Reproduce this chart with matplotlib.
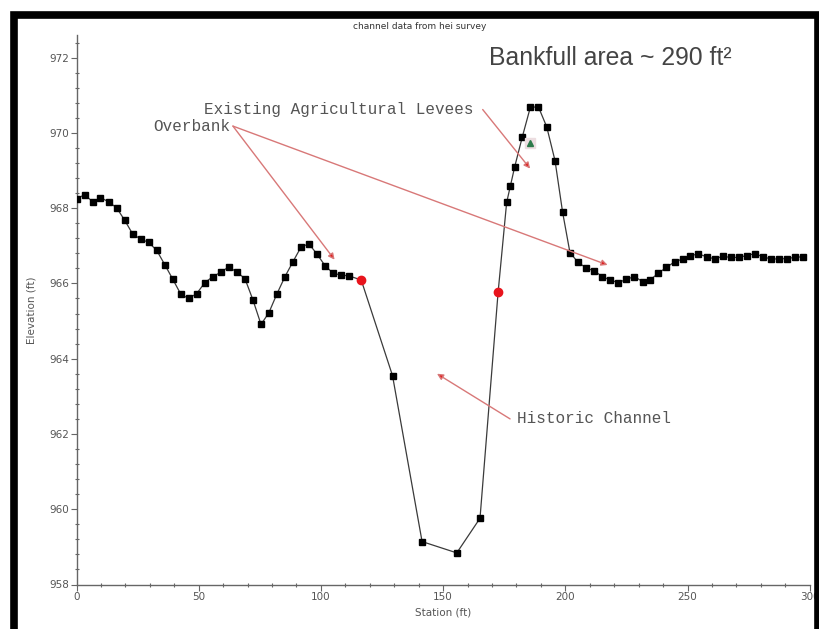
import matplotlib
matplotlib.use('Agg')
import matplotlib.pyplot as plt
import numpy as np
from matplotlib.patches import Rectangle

# surveyed cross-section points (station ft, elevation ft)
station = [0.0, 3.3, 6.6, 9.8, 13.1, 16.4, 19.7, 23.0, 26.2, 29.5, 32.8, 36.1,
           39.4, 42.7, 45.9, 49.2, 52.5, 55.8, 59.1, 62.3, 65.6, 68.9, 72.2,
           75.5, 78.7, 82.0, 85.3, 88.6, 91.9, 95.1, 98.4, 101.7, 105.0, 108.3,
           111.5,
           129.3, 141.4, 155.6, 165.1,
           176.0, 177.5, 179.3, 182.4, 185.7, 189.0, 192.4, 195.8, 198.9,
           201.9, 205.2, 208.6, 211.9, 215.2, 218.4, 221.7, 225.0, 228.3,
           231.6, 234.8, 238.1, 241.4, 244.7, 248.0, 251.2, 254.5, 257.8,
           261.1, 264.4, 267.6, 270.9, 274.2, 277.5, 280.8, 284.0, 287.3,
           290.6, 293.9, 297.2]
elevation = [968.24, 968.36, 968.17, 968.28, 968.17, 968.01, 967.68, 967.31,
             967.18, 967.09, 966.88, 966.50, 966.11, 965.71, 965.60, 965.73,
             966.02, 966.18, 966.30, 966.44, 966.30, 966.13, 965.56, 964.91,
             965.22, 965.72, 966.18, 966.58, 966.97, 967.05, 966.78, 966.47,
             966.27, 966.22, 966.20,
             963.55, 959.14, 958.84, 959.76,
             968.15, 968.58, 969.10, 969.89, 970.68, 970.69, 970.16, 969.26,
             967.89,
             966.82, 966.56, 966.41, 966.33, 966.18, 966.09, 966.02, 966.11,
             966.18, 966.05, 966.10, 966.27, 966.43, 966.57, 966.65, 966.74,
             966.78, 966.71, 966.65, 966.72, 966.69, 966.69, 966.74, 966.79,
             966.71, 966.65, 966.65, 966.66, 966.69, 966.71]

# bankfull points (red)
bank_station = [116.5, 172.5]
bank_elevation = [966.09, 965.76]

# levee marker (green triangle)
levee_station = [185.7]
levee_elevation = [969.72]

all_sta = np.array(station + bank_station)
all_elev = np.array(elevation + bank_elevation)
order = np.argsort(all_sta)

fig = plt.figure(figsize=(8.19, 6.29), dpi=100)
ax = fig.add_axes([76.5 / 819, 44.5 / 629, (809.7 - 76.5) / 819, (584.5 - 35) / 629])

ax.plot(all_sta[order], all_elev[order], color='#3a3a3a', lw=0.9, zorder=2)
ax.plot(station, elevation, 's', color='black', ms=3.7, zorder=3)
ax.plot(bank_station, bank_elevation, 'o', color='#e8141c', ms=6, zorder=4)
ax.plot(levee_station, levee_elevation, 's', color='#ecdde0', ms=6.5, zorder=4)
ax.plot(levee_station, levee_elevation, '^', color='#2d7a4a', ms=4.5, zorder=5)

ax.set_xlim(0, 300)
ax.set_ylim(958, 972.6)
ax.set_xticks(np.arange(0, 301, 50))
ax.set_xticks(np.arange(0, 301, 10), minor=True)
ax.set_yticks(np.arange(958, 973, 2))
ax.set_yticks(np.arange(958, 972.6, 0.4), minor=True)

for s in ['top', 'right']:
    ax.spines[s].set_visible(False)
for s in ['left', 'bottom']:
    ax.spines[s].set_color('#666666')
    ax.spines[s].set_linewidth(1.0)
ax.tick_params(which='major', direction='out', length=4, width=0.8,
               color='#666666', labelsize=7.5, labelcolor='#555555', pad=1.5)
ax.tick_params(which='minor', direction='inout', length=3, width=0.8,
               color='#666666')

ax.set_xlabel('Station (ft)', fontsize=7.5, color='#555555', labelpad=4)
ax.set_ylabel('Elevation (ft)', fontsize=7.5, color='#555555', labelpad=9)
fig.text(0.513, 0.958, 'channel data from hei survey', fontsize=6.5,
         color='#333333', ha='center', va='center')

mono = 'Liberation Mono'
txt_col = '#555555'
arrow_col = '#d87878'

ax.text(52.2, 970.63, 'Existing Agricultural Levees', family=mono,
        fontsize=11.5, color=txt_col, va='center')
ax.text(31.3, 970.18, 'Overbank', family=mono, fontsize=11.5,
        color=txt_col, va='center')
ax.text(180.2, 962.40, 'Historic Channel', family=mono, fontsize=11.5,
        color=txt_col, va='center')
ax.text(168.8, 971.98, 'Bankfull area ~ 290 ft\u00b2', family='Liberation Sans',
        fontsize=17.8, color='#444444', va='center')

arrows = [((64.0, 970.18), (105.6, 966.63)),
          ((64.0, 970.18), (217.3, 966.49)),
          ((166.2, 970.62), (185.6, 969.05)),
          ((177.4, 962.40), (147.5, 963.60))]
for start, end in arrows:
    ax.annotate('', xy=end, xytext=start,
                arrowprops=dict(arrowstyle='-|>', color=arrow_col, lw=1.0,
                                mutation_scale=9, shrinkA=0, shrinkB=0,
                                fc='#e02020', ec=arrow_col))

# black frame around picture
fig.patches.append(Rectangle((13.5 / 819, -0.05), (817.5 - 13.5) / 819,
                             (629 - 15) / 629 + 0.05,
                             transform=fig.transFigure, fill=False,
                             edgecolor='black', lw=5.5, zorder=10))

fig.savefig('out.png', dpi=100)
